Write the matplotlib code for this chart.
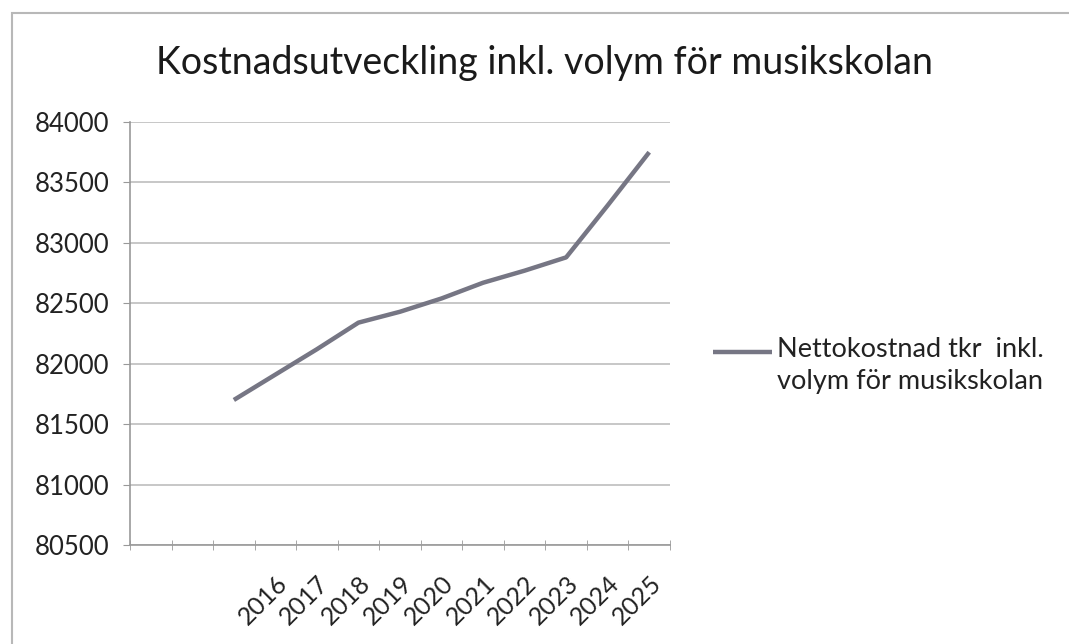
import matplotlib
matplotlib.use("Agg")
import matplotlib.pyplot as plt
from matplotlib.patches import Rectangle
from matplotlib.lines import Line2D
import numpy as np

# --- data ---
categories = ["", "", "", "2016", "2017", "2018", "2019", "2020", "2021", "2022", "2023", "2024", "2025"]
values = [None, None, 81700, 81910, 82120, 82340, 82430, 82540, 82670, 82770, 82880, 83310, 83750]
series_name = "Nettokostnad tkr  inkl.\nvolym för musikskolan"
title = "Kostnadsutveckling inkl. volym för musikskolan"
y_ticks = [80500, 81000, 81500, 82000, 82500, 83000, 83500, 84000]

FONT = ["Lato", "DejaVu Sans"]
plt.rcParams["font.family"] = FONT

W, H = 1069, 644
LINE_COLOR = "#767684"
fig = plt.figure(figsize=(W / 100, H / 100), dpi=100)
fig.patch.set_facecolor("white")

# outer chart border
fig.patches.append(Rectangle((12 / W, -0.05), 1.2, 1 - 13 / H + 0.05, transform=fig.transFigure,
                             fill=False, edgecolor="#b8b8b8", linewidth=1.5))

ax = fig.add_axes([130 / W, 1 - 545 / H, (670 - 130) / W, (545 - 122) / H])

x = np.arange(len(categories))
y = np.array([np.nan if v is None else v for v in values], dtype=float)
line, = ax.plot(x, y, color=LINE_COLOR, linewidth=3.2, solid_capstyle="butt",
                solid_joinstyle="round", label=series_name)

ax.set_xlim(-0.5, len(categories) - 0.5)
ax.set_ylim(y_ticks[0], y_ticks[-1])
ax.set_yticks(y_ticks)
ax.set_yticklabels([str(t) for t in y_ticks], fontsize=18.5, color="#222222")
ax.yaxis.grid(True, color="#bdbdbd", linewidth=1.2)
ax.set_axisbelow(True)

ax.set_xticks(x)
ax.set_xticklabels(categories, rotation=45, ha="right", va="top",
                   rotation_mode="anchor", fontsize=18, color="#222222")
ax.tick_params(axis="x", which="major", length=0, pad=19)
ax.set_xticks(np.arange(-0.5, len(categories)), minor=True)
ax.tick_params(axis="x", which="minor", length=7, direction="inout", color="#999999")
ax.tick_params(axis="y", length=5, color="#999999", pad=10)

for s in ["top", "right"]:
    ax.spines[s].set_visible(False)
for s in ["left", "bottom"]:
    ax.spines[s].set_color("#999999")
    ax.spines[s].set_linewidth(1.2)

fig.text(545 / W, 1 - 63 / H, title, ha="center", va="center", fontsize=27, color="#1a1a1a")

# legend (Excel style: handle aligned with first text line)
ly = 1 - 352 / H
fig.add_artist(Line2D([713 / W, 772 / W], [ly, ly], transform=fig.transFigure,
                      color=LINE_COLOR, linewidth=3.2, solid_capstyle="butt"))
fig.text(777 / W, 1 - 337 / H, series_name, ha="left", va="top", fontsize=19.5,
         color="#222222", linespacing=1.35)

fig.savefig("out.png", dpi=100, facecolor="white")
